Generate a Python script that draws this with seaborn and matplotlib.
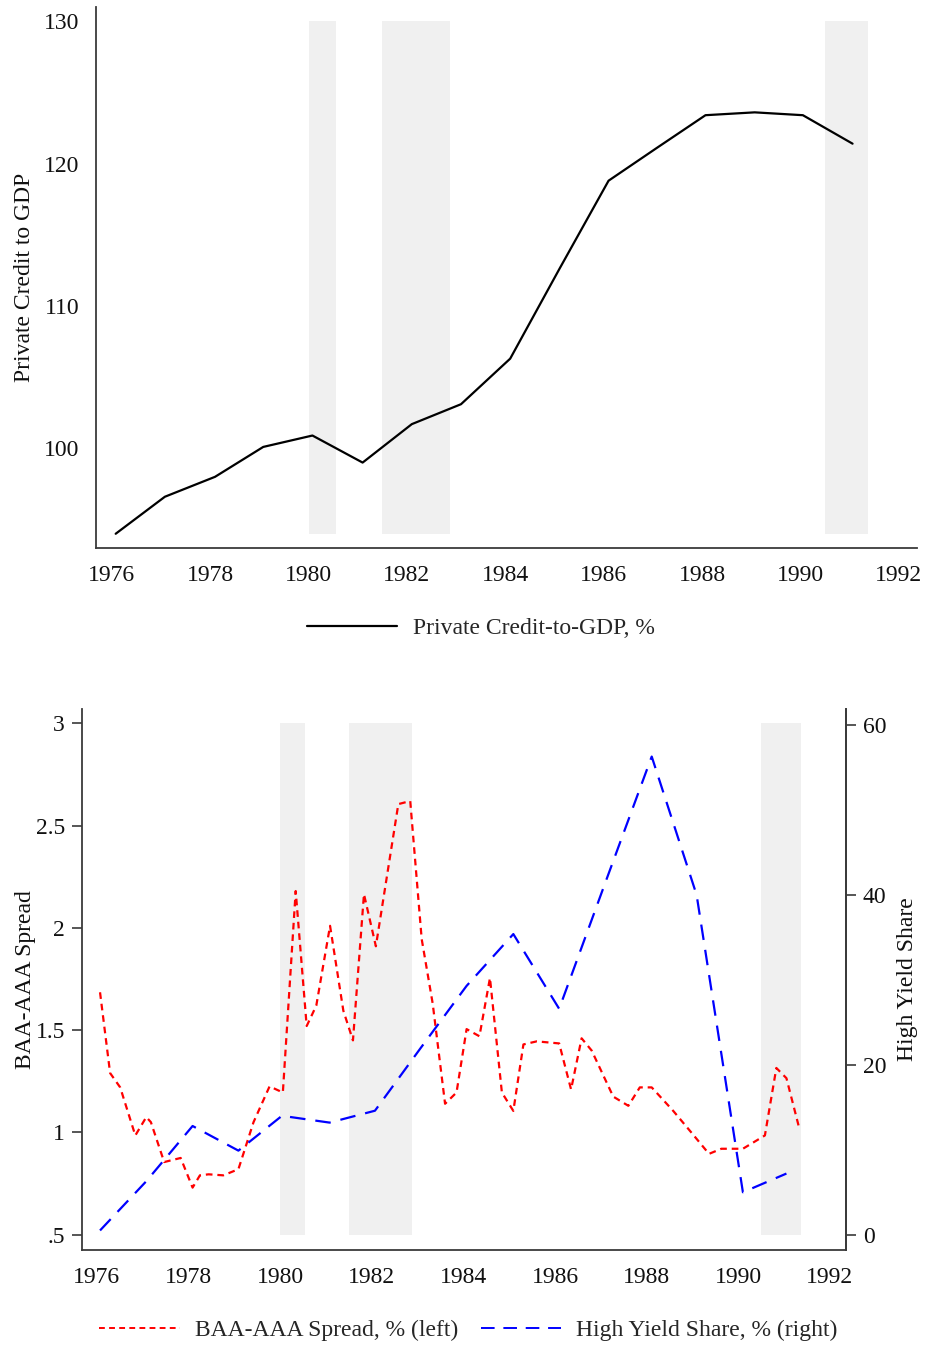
import matplotlib
matplotlib.use("Agg")
import matplotlib.pyplot as plt
import seaborn as sns
import pandas as pd
from matplotlib.lines import Line2D

sns.set_theme(style="white")
plt.rcParams['font.family'] = ['Liberation Serif', 'DejaVu Serif']

# ---------------- data ----------------
credit_years = [1976.08, 1977.08, 1978.1, 1979.08, 1980.08, 1981.1, 1982.1, 1983.1,
                1984.1, 1985.1, 1986.1, 1987.08, 1988.07, 1989.07, 1990.05, 1991.06]
credit_gdp = [94.0, 96.6, 98.0, 100.1, 100.9, 99.0, 101.7, 103.1,
              106.3, 112.6, 118.8, 121.1, 123.4, 123.6, 123.4, 121.4]

spread_years = [1976.07, 1976.29, 1976.51, 1976.84, 1977.08, 1977.18, 1977.47, 1977.83,
                1978.09, 1978.25, 1978.44, 1978.76, 1979.09, 1979.42, 1979.77, 1980.06,
                1980.34, 1980.58, 1980.79, 1981.09, 1981.38, 1981.59, 1981.83, 1982.09,
                1982.58, 1982.84, 1983.09, 1983.33, 1983.60, 1983.85, 1984.07, 1984.35,
                1984.58, 1984.84, 1985.09, 1985.31, 1985.60, 1986.09, 1986.35, 1986.58,
                1986.80, 1987.27, 1987.60, 1987.85, 1988.11, 1988.58, 1989.01, 1989.36,
                1989.63, 1990.10, 1990.58, 1990.83, 1991.05, 1991.33]
spread = [1.685, 1.29, 1.22, 0.985, 1.075, 1.05, 0.855, 0.875,
          0.73, 0.79, 0.795, 0.79, 0.82, 1.05, 1.225, 1.195,
          2.18, 1.52, 1.62, 2.01, 1.595, 1.45, 2.165, 1.91,
          2.605, 2.62, 1.945, 1.63, 1.14, 1.195, 1.505, 1.47,
          1.755, 1.195, 1.105, 1.43, 1.445, 1.435, 1.21, 1.46,
          1.40, 1.175, 1.13, 1.22, 1.22, 1.105, 0.99, 0.895,
          0.92, 0.92, 0.985, 1.315, 1.265, 1.02]

hy_years = [1976.07, 1977.08, 1978.09, 1979.09, 1980.04, 1981.08, 1982.07, 1983.07,
            1984.07, 1985.09, 1986.09, 1987.1, 1988.11, 1989.09, 1990.1, 1991.05]
hy_share = [0.5, 6.3, 12.8, 9.9, 14.0, 13.2, 14.6, 22.0,
            29.3, 35.4, 26.6, 41.5, 56.3, 40.0, 5.0, 7.2]

rec_start = [1980.0, 1981.5, 1990.5]
rec_end = [1980.55, 1982.88, 1991.37]

credit_shade = (94.0, 130.0)
spread_shade = (0.5, 3.0)

x_ticks = [1976, 1978, 1980, 1982, 1984, 1986, 1988, 1990, 1992]
credit_ticks = [100, 110, 120, 130]
spread_ticks = [0.5, 1, 1.5, 2, 2.5, 3]
spread_ticklabels = [".5", "1", "1.5", "2", "2.5", "3"]
hy_ticks = [0, 20, 40, 60]

# ---------------- figure ----------------
W, H = 930, 1347
fig = plt.figure(figsize=(W / 100, H / 100), dpi=100)
FS = 17
SPINE = '#3a3a3a'
SHADE = '#f0f0f0'

def style_axes(ax, right=False):
    for s in ['top', 'right', 'left', 'bottom']:
        ax.spines[s].set_visible(False)
    ax.spines['left'].set_visible(True)
    ax.spines['bottom'].set_visible(True)
    if right:
        ax.spines['right'].set_visible(True)
    for s in ax.spines.values():
        s.set_color(SPINE)
        s.set_linewidth(1.3)
    ax.tick_params(axis='both', direction='out', length=7, width=1.2, color=SPINE,
                   labelsize=FS, labelcolor='#111111', pad=5)
    ax.grid(False)
    ax.set_facecolor('white')

# ---- top panel ----
ax1 = fig.add_axes([96 / W, 1 - 548 / H, (917 - 96) / W, (548 - 7) / H])
style_axes(ax1)
for a, b in zip(rec_start, rec_end):
    ax1.fill_between([a, b], credit_shade[0], credit_shade[1], color=SHADE, lw=0, zorder=0)
df_c = pd.DataFrame({'year': credit_years, 'val': credit_gdp})
sns.lineplot(data=df_c, x='year', y='val', ax=ax1, color='black', lw=1.6, zorder=3)
ax1.set_xlim(1975.68, 1992.37)
ax1.set_ylim(93.0, 131.0)
ax1.set_xticks(x_ticks)
ax1.set_yticks(credit_ticks)
ax1.set_xlabel('')
ax1.set_ylabel('Private Credit to GDP', fontsize=FS, color='#111111')
ax1.yaxis.set_label_coords(-0.074, 0.5)
ax1.legend(handles=[Line2D([], [], color='black', lw=1.6)],
           labels=['Private Credit-to-GDP, %'],
           loc='center', bbox_to_anchor=(0.469, -0.148), frameon=False,
           fontsize=FS, handlelength=3.8, handletextpad=0.7)

# ---- bottom panel ----
ax2 = fig.add_axes([81.7 / W, 1 - 1250 / H, (846 - 81.7) / W, (1250 - 709) / H])
style_axes(ax2, right=True)
for a, b in zip(rec_start, rec_end):
    ax2.fill_between([a, b], spread_shade[0], spread_shade[1], color=SHADE, lw=0, zorder=0)
df_s = pd.DataFrame({'year': spread_years, 'val': spread})
sns.lineplot(data=df_s, x='year', y='val', ax=ax2, color='#ff0000', lw=1.6,
             dashes=False, zorder=3)
ax2.lines[-1].set_dashes([3, 2.2])
ax2.set_xlim(1975.67, 1992.35)
ax2.set_ylim(0.425, 3.07)
ax2.set_xticks(x_ticks)
ax2.set_yticks(spread_ticks)
ax2.set_yticklabels(spread_ticklabels)
ax2.set_xlabel('')
ax2.set_ylabel('BAA-AAA Spread', fontsize=FS, color='#111111')
ax2.yaxis.set_label_coords(-0.0595, 0.5)

ax3 = ax2.twinx()
ax3.set_position(ax2.get_position())
style_axes(ax3, right=True)
ax3.spines['left'].set_visible(False)
ax3.spines['bottom'].set_visible(False)
df_h = pd.DataFrame({'year': hy_years, 'val': hy_share})
sns.lineplot(data=df_h, x='year', y='val', ax=ax3, color='#0000ff', lw=1.6, zorder=3)
ax3.lines[-1].set_dashes([7, 4.5])
ax3.set_ylim(-1.8, 61.9)
ax3.set_yticks(hy_ticks)
ax3.set_xlabel('')
ax3.set_ylabel('High Yield Share', fontsize=FS, color='#111111', labelpad=8)
ax3.tick_params(axis='y', direction='out', length=7, width=1.2, color=SPINE,
                labelsize=FS, labelcolor='#111111', pad=5)

red_h = Line2D([], [], color='#ff0000', lw=1.4, dashes=[3, 2.2])
blue_h = Line2D([], [], color='#0000ff', lw=1.4, dashes=[7, 4.5])
ax2.legend(handles=[red_h, blue_h],
           labels=['BAA-AAA Spread, % (left)', 'High Yield Share, % (right)'],
           loc='center', bbox_to_anchor=(0.506, -0.148), frameon=False, ncol=2,
           fontsize=FS, handlelength=3.4, handletextpad=0.65, columnspacing=0.95)

fig.savefig('out.png', dpi=100, facecolor='white')
